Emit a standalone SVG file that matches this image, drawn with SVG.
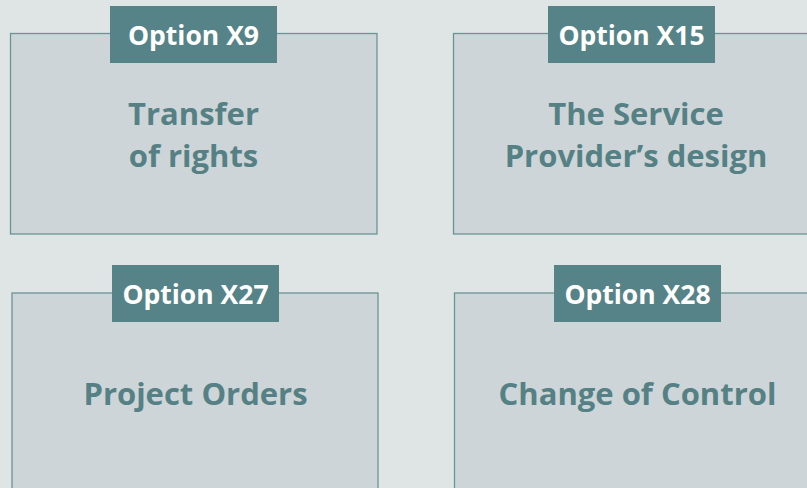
<svg xmlns="http://www.w3.org/2000/svg" width="807" height="488" viewBox="0 0 807 488">
<style>
.box{fill:#cdd5d8;stroke:#6a9597;stroke-width:1.3}
.tag{fill:#568387}
.tagt{font-family:"Open Sans","Noto Sans",sans-serif;font-weight:bold;font-size:26.5px;fill:#ffffff;text-anchor:middle}
.tt{font-family:"Open Sans","Noto Sans",sans-serif;font-weight:bold;font-size:31px;fill:#558184;text-anchor:middle}
</style>
<rect width="807" height="488" fill="#dfe5e5"/>
<g id="connectors"></g>
<g id="x9">
<rect class="box" x="10.5" y="33.5" width="366.5" height="200.5"/>
<rect class="tag" x="110" y="6" width="167" height="57"/>
<text class="tagt" x="193.5" y="44.5">Option X9</text>
<text class="tt" x="193.5" y="125">Transfer</text>
<text class="tt" x="193.5" y="167">of rights</text>
</g>
<g id="x15">
<rect class="box" x="453.5" y="33.5" width="360" height="200.5"/>
<rect class="tag" x="548" y="6" width="167" height="57"/>
<text class="tagt" x="631.5" y="44.5">Option X15</text>
<text class="tt" x="636" y="125">The Service</text>
<text class="tt" x="636" y="167">Provider’s design</text>
</g>
<g id="x27">
<rect class="box" x="12" y="293" width="366" height="210"/>
<rect class="tag" x="112" y="265" width="167" height="57"/>
<text class="tagt" x="195.5" y="304">Option X27</text>
<text class="tt" x="195.5" y="405">Project Orders</text>
</g>
<g id="x28">
<rect class="box" x="454.5" y="293" width="360" height="210"/>
<rect class="tag" x="554" y="265" width="167" height="57"/>
<text class="tagt" x="637.5" y="304">Option X28</text>
<text class="tt" x="637.5" y="405">Change of Control</text>
</g>
</svg>
